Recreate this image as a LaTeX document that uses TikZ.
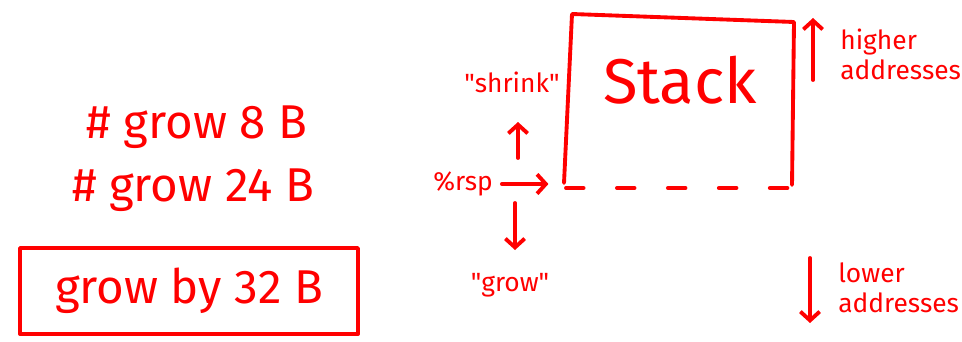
\documentclass[tikz,border=0pt]{standalone}
\usepackage{fontspec}
\setmainfont{Fira Sans}[Ligatures=TeXOff]
\usetikzlibrary{positioning,arrows.meta}

\begin{document}
\begin{tikzpicture}[x=0.02cm,y=-0.02cm,
  ink/.style={red,line width=2.2pt,line cap=round,line join=round},
  arr/.style={ink,-{Straight Barb[length=5pt,width=11pt]}},
  big/.style={red,font=\fontsize{27}{30}\selectfont},
  lbl/.style={red,font=\fontsize{15}{17}\selectfont,align=left,inner sep=0pt}]
\useasboundingbox (0,0) rectangle (962,341);

\node[big] (G1) at (197,127) {\# grow 8 B};

\node[big] (G2) at (193,190) {\# grow 24 B};

\node[big,draw,ink,minimum width=6.76cm,minimum height=1.72cm] (G3) at (189,291) {grow by 32 B};

\coordinate (S1) at (564,183);

\coordinate (S2) at (572,14);

\coordinate (S3) at (794,22);

\coordinate (S4) at (792,185);

\draw[ink] (S1) -- (S2) -- (S3) -- (S4);

\coordinate (D1) at (566,188);

\coordinate (D2) at (790,188);

\draw[ink,dash pattern=on 10pt off 19pt] (D1) -- (D2);

\node[red,font=\fontsize{36}{40}\selectfont] (stk) at (680,80) {Stack};

\node[lbl] (rsp) at (463,184) {\%rsp};

\draw[arr,shorten <=5pt,shorten >=10pt] (rsp.east) -- (rsp.east -| D1);

\node[lbl] (shr) at (512,82) {"shrink"};

\coordinate (U0) at (518,158);

\coordinate (U1) at (518,122);

\draw[arr] (U0) -- (U1);

\node[lbl] (grw) at (510,285) {"grow"};

\coordinate (W0) at (515,203);

\coordinate (W1) at (515,250);

\draw[arr] (W0) -- (W1);

\node[lbl,anchor=west] (hi) at (840,54) {higher\\addresses};

\coordinate (H0) at (813,80);

\coordinate (H1) at (813,18);

\draw[arr] (H0) -- (H1);

\node[lbl,anchor=west] (lo) at (838,288) {lower\\addresses};

\coordinate (L0) at (810,258);

\coordinate (L1) at (810,323);

\draw[arr] (L0) -- (L1);

\end{tikzpicture}
\end{document}
